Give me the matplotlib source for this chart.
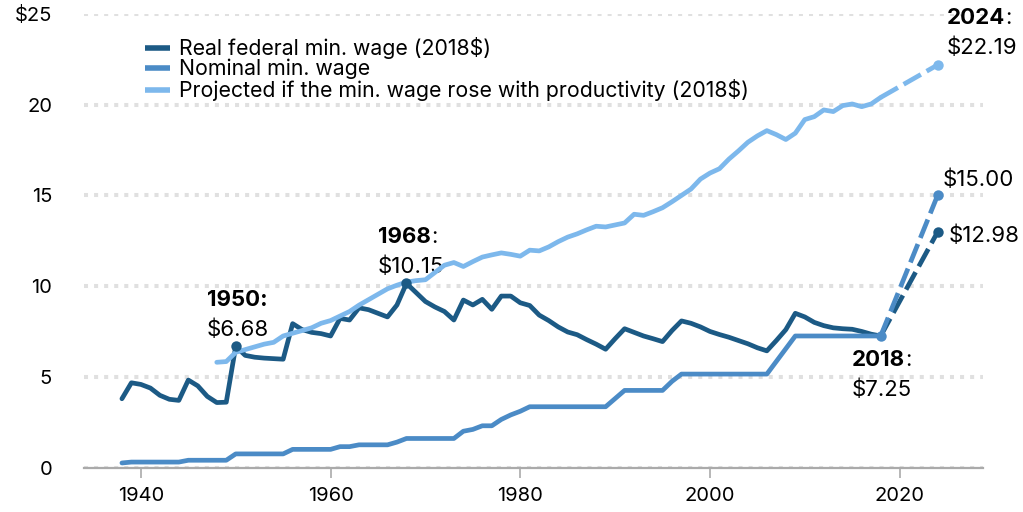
import numpy as np
import matplotlib.pyplot as plt

#----------------------#
# Data                 #
#----------------------#

years_real = list(range(1938, 2019))
real_wage = [3.79, 4.67, 4.58, 4.38, 3.98, 3.76, 3.70, 4.82, 4.50, 3.92,
             3.58, 3.60, 6.68, 6.18, 6.08, 6.03, 6.00, 5.97, 7.93, 7.60,
             7.45, 7.38, 7.25, 8.22, 8.13, 8.80, 8.70, 8.50, 8.30, 8.96,
             10.15, 9.65, 9.15, 8.85, 8.60, 8.13, 9.23, 8.96, 9.27, 8.72,
             9.45, 9.45, 9.08, 8.93, 8.40, 8.10, 7.75, 7.47, 7.32, 7.05,
             6.80, 6.52, 7.10, 7.65, 7.45, 7.25, 7.10, 6.94, 7.55, 8.08,
             7.95, 7.75, 7.50, 7.33, 7.18, 7.00, 6.82, 6.60, 6.43, 7.00,
             7.60, 8.50, 8.30, 8.00, 7.82, 7.70, 7.65, 7.62, 7.50, 7.35,
             7.25]

nominal_wage = [0.25, 0.30, 0.30, 0.30, 0.30, 0.30, 0.30, 0.40, 0.40, 0.40,
                0.40, 0.40, 0.75, 0.75, 0.75, 0.75, 0.75, 0.75, 1.00, 1.00,
                1.00, 1.00, 1.00, 1.15, 1.15, 1.25, 1.25, 1.25, 1.25, 1.40,
                1.60, 1.60, 1.60, 1.60, 1.60, 1.60, 2.00, 2.10, 2.30, 2.30,
                2.65, 2.90, 3.10, 3.35, 3.35, 3.35, 3.35, 3.35, 3.35, 3.35,
                3.35, 3.35, 3.80, 4.25, 4.25, 4.25, 4.25, 4.25, 4.75, 5.15,
                5.15, 5.15, 5.15, 5.15, 5.15, 5.15, 5.15, 5.15, 5.15, 5.85,
                6.55, 7.25, 7.25, 7.25, 7.25, 7.25, 7.25, 7.25, 7.25, 7.25,
                7.25]

years_prod = list(range(1948, 2019))
prod_wage = [5.80, 5.84, 6.35, 6.50, 6.65, 6.80, 6.90, 7.25, 7.40, 7.55,
             7.70, 7.95, 8.10, 8.35, 8.60, 8.95, 9.25, 9.55, 9.85, 10.05,
             10.22, 10.30, 10.35, 10.75, 11.15, 11.30, 11.08, 11.35, 11.60, 11.72,
             11.83, 11.75, 11.65, 11.98, 11.94, 12.16, 12.45, 12.70, 12.88, 13.10,
             13.30, 13.26, 13.37, 13.48, 13.96, 13.90, 14.10, 14.32, 14.65, 15.00,
             15.35, 15.90, 16.23, 16.47, 17.00, 17.45, 17.93, 18.28, 18.57, 18.35,
             18.08, 18.43, 19.18, 19.34, 19.71, 19.62, 19.95, 20.04, 19.89, 20.04,
             20.40]

# 2018 -> 2024 projections
proj_years = [2018, 2024]
real_proj = [7.25, 12.98]
nominal_proj = [7.25, 15.00]
prod_proj = [20.40, 22.19]

labels = ["Real federal min. wage (2018$)",
          "Nominal min. wage",
          "Projected if the min. wage rose with productivity (2018$)"]

dark = "#1c5a85"
mid = "#4b8bc6"
light = "#7db8ec"

plt.rcParams['font.family'] = ['Inter', 'DejaVu Sans']

fig = plt.figure(figsize=(10.23, 5.12), dpi=100)
ax = fig.add_axes([0.0821, 0.0869, 0.8789, 0.8858])

lw = 3.4
line_kw = dict(linewidth=lw, solid_joinstyle='round', solid_capstyle='round')
dash_kw = dict(linewidth=lw, dashes=(4.2, 1.4), dash_capstyle='butt')

ax.plot(years_real, real_wage, color=dark, zorder=3, label=labels[0], **line_kw)
ax.plot(years_real, nominal_wage, color=mid, zorder=4, label=labels[1], **line_kw)
ax.plot(years_prod, prod_wage, color=light, zorder=5, label=labels[2], **line_kw)

ax.plot(proj_years, real_proj, color=dark, zorder=3, **dash_kw)
ax.plot(proj_years, nominal_proj, color=mid, zorder=4, **dash_kw)
ax.plot(proj_years, prod_proj, color=light, zorder=5, **dash_kw)

# dots
ms = 7.5
ax.plot([1950, 1968, 2024], [real_wage[12], real_wage[30], real_proj[1]],
        'o', color=dark, ms=ms, zorder=6, mew=0)
ax.plot([2018, 2024], [nominal_proj[0], nominal_proj[1]],
        'o', color=mid, ms=ms, zorder=6, mew=0)
ax.plot([2024], [prod_proj[1]], 'o', color=light, ms=ms, zorder=6, mew=0)

ax.set_xlim(1934, 2028.8)
ax.set_ylim(0, 25)

ax.set_yticks([0, 5, 10, 15, 20, 25])
ax.set_yticklabels(["0", "5", "10", "15", "20", "$25"])
ax.set_xticks([1940, 1960, 1980, 2000, 2020])

ax.grid(axis='y', color='#e0e0e0', linewidth=2.9, linestyle=(0, (1, 1.5)))
ax.set_axisbelow(True)
for s in ['top', 'right', 'left']:
    ax.spines[s].set_visible(False)
ax.spines['bottom'].set_color('#aaaaaa')
ax.spines['bottom'].set_linewidth(1.6)
ax.tick_params(axis='y', length=0, pad=23, labelsize=14.5)
ax.tick_params(axis='x', length=7, width=1.2, color='#aaaaaa', pad=7, labelsize=14.5)

leg = ax.legend(loc='upper left', bbox_to_anchor=(0.058, 0.968), frameon=False,
                fontsize=15.3, handlelength=1.2, handletextpad=0.42,
                labelspacing=0.0, borderaxespad=0)
for h in leg.get_lines():
    h.set_linewidth(4)
    h.set_solid_capstyle('butt')

# annotations
fs = 16


def yearlabel(x, y, year, value, allbold=False):
    if allbold:
        ax.text(x, y, year + ":", fontsize=fs, fontweight='bold', va='center', ha='left')
    else:
        t = ax.text(x, y, year, fontsize=fs, fontweight='bold', va='center', ha='left')
        ax.annotate(":", xy=(1, 0.5), xycoords=t, va='center', ha='left', fontsize=fs)
    ax.text(x, y - 1.65, value, fontsize=fs, va='center', ha='left')


yearlabel(1946.95, 9.25, "1950", "$6.68", allbold=True)
yearlabel(1965.0, 12.7, "1968", "$10.15")
yearlabel(2014.97, 5.93, "2018", "$7.25")
yearlabel(2025.0, 24.8, "2024", "$22.19")
ax.text(2024.5, 15.85, "$15.00", fontsize=fs, va='center', ha='left')
ax.text(2025.2, 12.75, "$12.98", fontsize=fs, va='center', ha='left')

fig.savefig("out.png", dpi=100)
